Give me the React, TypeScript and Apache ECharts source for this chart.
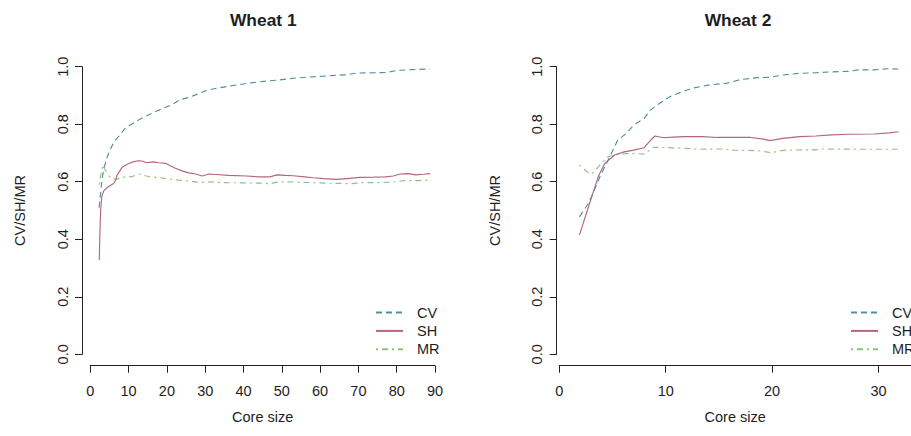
import React, { useEffect, useRef } from "react";
import * as echarts from "echarts";

// ---------- data ----------
const seriesNames = ["CV", "SH", "MR"];
const panelTitles = ["Wheat 1", "Wheat 2"];
const xAxisTitle = "Core size";
const yAxisTitle = "CV/SH/MR";
const yTicks = [0, 0.2, 0.4, 0.6, 0.8, 1.0];
const xTicksWheat1 = [0, 10, 20, 30, 40, 50, 60, 70, 80, 90];
const xTicksWheat2 = [0, 10, 20, 30];

const w1CvX = [2.3, 3.0, 3.5, 4.4, 5.3, 6.5, 7.7, 9.1, 10.4, 12.6, 14.5, 17, 19, 21.3, 23.4, 25.7, 27.5, 30.4, 33, 36, 39, 42, 46, 49.5, 53, 57, 60.8, 64, 67, 69.6, 74, 77.4, 80, 84, 88.7];
const w1CvY = [0.51, 0.6, 0.645, 0.685, 0.715, 0.745, 0.762, 0.786, 0.797, 0.815, 0.828, 0.844, 0.855, 0.868, 0.885, 0.893, 0.902, 0.918, 0.925, 0.932, 0.938, 0.944, 0.95, 0.954, 0.96, 0.964, 0.967, 0.97, 0.972, 0.978, 0.979, 0.98, 0.987, 0.99, 0.992];

const w1ShX = [2.35, 2.5, 2.7, 3.0, 3.5, 4.4, 5.3, 6.1, 6.6, 7.0, 8.3, 9.5, 10.9, 12.5, 13.5, 14.7, 16.4, 18, 19.6, 21, 22.2, 24.3, 25.7, 27.5, 29.2, 31, 33, 36, 40.8, 44, 46.9, 48.7, 51, 53, 56, 58.2, 61, 64.3, 67, 70.4, 74, 77, 79.1, 80.9, 83, 85, 87, 88.7];
const w1ShY = [0.328, 0.42, 0.5, 0.55, 0.568, 0.58, 0.588, 0.594, 0.605, 0.623, 0.65, 0.66, 0.668, 0.673, 0.672, 0.666, 0.669, 0.666, 0.664, 0.655, 0.647, 0.636, 0.631, 0.627, 0.62, 0.627, 0.625, 0.622, 0.62, 0.617, 0.617, 0.624, 0.622, 0.621, 0.617, 0.614, 0.611, 0.608, 0.611, 0.615, 0.616, 0.617, 0.62, 0.627, 0.628, 0.624, 0.626, 0.628];

const w1MrX = [2.4, 2.7, 3.2, 3.7, 4.4, 5.0, 5.7, 6.5, 8, 9.1, 11, 12.6, 13.5, 15.2, 17.5, 20.5, 23.4, 25.7, 28.6, 31, 34, 40, 45, 47, 49, 53, 58, 62, 66, 68, 71, 76, 79, 82, 86, 88.7];
const w1MrY = [0.59, 0.62, 0.658, 0.645, 0.629, 0.618, 0.612, 0.608, 0.613, 0.617, 0.618, 0.627, 0.624, 0.618, 0.615, 0.61, 0.605, 0.603, 0.597, 0.6, 0.597, 0.596, 0.595, 0.593, 0.6, 0.599, 0.597, 0.595, 0.594, 0.593, 0.597, 0.597, 0.599, 0.604, 0.604, 0.605];

const w2CvX = [1.9, 2.75, 3.3, 3.83, 4.75, 5.5, 6.3, 7.0, 7.96, 8.6, 9.2, 10.4, 11.2, 12.5, 14, 15.8, 17, 18.6, 19.8, 21, 22.6, 24.1, 25.6, 27.2, 28.1, 29.6, 30.8, 31.9];
const w2CvY = [0.478, 0.525, 0.571, 0.618, 0.687, 0.745, 0.768, 0.797, 0.82, 0.85, 0.867, 0.896, 0.908, 0.925, 0.936, 0.943, 0.955, 0.962, 0.963, 0.971, 0.977, 0.979, 0.982, 0.984, 0.989, 0.989, 0.993, 0.992];

const w2ShX = [1.9, 2.75, 3.67, 4.29, 5.2, 6.1, 7.0, 7.96, 8.6, 9.0, 9.8, 10.7, 11.8, 13.4, 14.9, 18, 19.2, 19.8, 21, 22.6, 24.1, 25.6, 27.2, 29.6, 31.0, 31.9];
const w2ShY = [0.415, 0.513, 0.618, 0.664, 0.693, 0.704, 0.71, 0.718, 0.745, 0.759, 0.753, 0.755, 0.757, 0.757, 0.754, 0.754, 0.748, 0.743, 0.751, 0.757, 0.759, 0.763, 0.765, 0.766, 0.77, 0.774];

const w2MrX = [1.9, 2.75, 3.07, 3.67, 4.6, 5.5, 6.7, 7.96, 8.9, 10.7, 13.4, 15.4, 16.4, 18.7, 19.9, 21.2, 24.1, 24.6, 28, 31.9];
const w2MrY = [0.658, 0.631, 0.627, 0.652, 0.687, 0.696, 0.699, 0.696, 0.72, 0.718, 0.713, 0.714, 0.71, 0.708, 0.701, 0.71, 0.711, 0.714, 0.713, 0.713];

// ---------- styling ----------
const FONT = "'Liberation Sans', Arial, sans-serif";
const TEXT = "#1e1e1e";
const FS = 14.5;
const colors = { CV: "#548f9c", SH: "#b4667e", MR: "#8fc27e" };
const dashes: Record<string, any> = { CV: [6, 4], SH: "solid", MR: [2, 4, 6, 4] };

const zip = (xs: number[], ys: number[]) => xs.map((x, i) => [x, ys[i]]);

type Panel = {
  axisX: number;
  zeroX: number;
  pxPerUnit: number;
  plotRight: number;
  xTicks: number[];
  title: string;
  legendLeft: number;
  data: number[][][];
};

const Y_TOP = 66.7;
const Y_BOT = 354.3;
const X_AXIS_Y = 365.7;
const PLOT_TOP = 55.2;

const panels: Panel[] = [
  {
    axisX: 82, zeroX: 90.3, pxPerUnit: 3.83, plotRight: 444.6, xTicks: xTicksWheat1,
    title: panelTitles[0], legendLeft: 375,
    data: [zip(w1CvX, w1CvY), zip(w1ShX, w1ShY), zip(w1MrX, w1MrY)],
  },
  {
    axisX: 556.7, zeroX: 559.3, pxPerUnit: 10.89, plotRight: 919.3, xTicks: xTicksWheat2,
    title: panelTitles[1], legendLeft: 850,
    data: [zip(w2CvX, w2CvY), zip(w2ShX, w2ShY), zip(w2MrX, w2MrY)],
  },
];

function buildOption() {
  const grid: any[] = [];
  const xAxis: any[] = [];
  const yAxis: any[] = [];
  const series: any[] = [];
  const title: any[] = [];
  const legend: any[] = [];
  const yPerPx = 1 / (Y_BOT - Y_TOP);

  panels.forEach((p, pi) => {
    const base = pi * 3;
    grid.push({ left: p.axisX, top: PLOT_TOP, width: p.plotRight - p.axisX, height: X_AXIS_Y - PLOT_TOP });
    xAxis.push({
      gridIndex: base, type: "value", show: false,
      min: (p.axisX - p.zeroX) / p.pxPerUnit, max: (p.plotRight - p.zeroX) / p.pxPerUnit,
    });
    yAxis.push({
      gridIndex: base, type: "value", show: false,
      min: -(X_AXIS_Y - Y_BOT) * yPerPx, max: 1 + (Y_TOP - PLOT_TOP) * yPerPx,
    });
    grid.push({ left: p.axisX, top: Y_TOP, width: 1, height: Y_BOT - Y_TOP });
    xAxis.push({ gridIndex: base + 1, type: "value", show: false, min: 0, max: 1 });
    yAxis.push({
      gridIndex: base + 1, type: "value", position: "left",
      min: yTicks[0], max: yTicks[yTicks.length - 1], interval: 0.2,
      name: yAxisTitle, nameLocation: "middle", nameGap: 54.5,
      nameTextStyle: { fontFamily: FONT, fontSize: FS, color: TEXT },
      axisLine: { show: true, lineStyle: { color: "#222", width: 1 } },
      axisTick: { show: true, length: 7, lineStyle: { color: "#222", width: 1 } },
      splitLine: { show: false },
      axisLabel: {
        rotate: 90, margin: 12, fontFamily: FONT, fontSize: FS, color: TEXT,
        formatter: (v: number) => v.toFixed(1),
      },
    });
    const xMax = (p.plotRight - p.zeroX) / p.pxPerUnit;
    const lastTick = p.xTicks[p.xTicks.length - 1];
    const axisMax = pi === 0 ? lastTick : xMax;
    grid.push({ left: p.zeroX, top: X_AXIS_Y - 1, width: axisMax * p.pxPerUnit, height: 1 });
    xAxis.push({
      gridIndex: base + 2, type: "value", position: "bottom",
      min: p.xTicks[0], max: axisMax, interval: 10,
      name: xAxisTitle, nameLocation: "middle", nameGap: 44,
      nameTextStyle: { fontFamily: FONT, fontSize: FS, color: TEXT },
      axisLine: { show: true, onZero: false, lineStyle: { color: "#222", width: 1 } },
      axisTick: { show: true, length: 7, lineStyle: { color: "#222", width: 1 } },
      splitLine: { show: false },
      axisLabel: { margin: 18, fontFamily: FONT, fontSize: FS, color: TEXT, showMaxLabel: pi === 0 },
    });
    yAxis.push({ gridIndex: base + 2, type: "value", show: false, min: 0, max: 1 });

    seriesNames.forEach((name, si) => {
      series.push({
        name, type: "line", xAxisIndex: base, yAxisIndex: base,
        data: p.data[si], symbol: "none", smooth: false,
        lineStyle: { color: (colors as any)[name], width: 1.15, type: dashes[name] },
        itemStyle: { color: (colors as any)[name] },
        z: 3 - si,
      });
    });

    title.push({
      text: p.title, left: (p.axisX + p.plotRight) / 2, top: 11, textAlign: "center", padding: 0,
      textStyle: { fontFamily: FONT, fontSize: 17.4, fontWeight: "bold", color: TEXT },
    });
    legend.push({
      data: seriesNames, orient: "vertical", left: p.legendLeft, top: 305, padding: 0,
      itemWidth: 27, itemHeight: 14, itemGap: 3.4,
      itemStyle: { opacity: 0 },
      textStyle: { fontFamily: FONT, fontSize: FS, color: TEXT, padding: [0, 0, 0, 9] },
    });
  });

  return {
    animation: false,
    backgroundColor: "#ffffff",
    title, legend, grid, xAxis, yAxis, series,
  };
}

export default function App() {
  const ref = useRef<HTMLDivElement>(null);
  useEffect(() => {
    if (!ref.current) return;
    const chart = echarts.init(ref.current, undefined, { renderer: "svg" });
    chart.setOption(buildOption() as any);
    return () => chart.dispose();
  }, []);
  return (
    <div
      ref={ref}
      style={{ position: "fixed", left: 0, top: 0, width: 911, height: 436, background: "#fff" }}
    />
  );
}
